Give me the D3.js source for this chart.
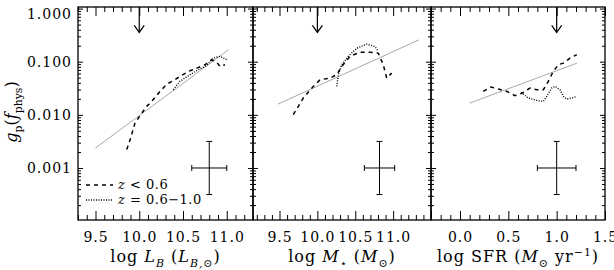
<!DOCTYPE html>
<html>
<head>
<meta charset="utf-8">
<script src="https://cdn.jsdelivr.net/npm/d3@7/dist/d3.min.js"></script>
<style>
body { margin: 0; background: #fff; }
text { font-family: "DejaVu Serif", "Liberation Serif", serif; fill: #000; }
</style>
</head>
<body>
<svg id="chart" width="614" height="270"></svg>
<script>
// values
// panel 1: log L_B
const lbDashX = [9.857, 9.902, 9.951, 10.028, 10.085, 10.142, 10.237, 10.314, 10.389, 10.466, 10.561, 10.657, 10.751, 10.828, 10.885, 10.923, 10.98]
const lbDashY = [0.00222, 0.00366, 0.00701, 0.01067, 0.01445, 0.0179, 0.0276, 0.0378, 0.0438, 0.0528, 0.0656, 0.0757, 0.0877, 0.109, 0.0982, 0.0815, 0.0877]
const lbDotX = [10.389, 10.466, 10.58, 10.675, 10.771, 10.846, 10.923, 10.999]
const lbDotY = [0.0297, 0.0428, 0.0569, 0.0706, 0.0851, 0.117, 0.126, 0.109]
const lbFitX = [9.5, 11.02]
const lbFitY = [0.00238, 0.168]

// panel 2: log M*
const msDashX = [9.682, 9.814, 9.925, 10.035, 10.167, 10.255, 10.321, 10.431, 10.563, 10.695, 10.804, 10.87, 10.915, 10.981]
const msDashY = [0.0101, 0.0207, 0.0318, 0.0458, 0.0491, 0.0569, 0.0815, 0.126, 0.151, 0.151, 0.145, 0.0877, 0.0491, 0.061]
const msDotX = [10.255, 10.279, 10.321, 10.408, 10.519, 10.651, 10.761, 10.804]
const msDotY = [0.0343, 0.0577, 0.0877, 0.126, 0.179, 0.214, 0.193, 0.156]
const msFitX = [9.48, 11.34]
const msFitY = [0.0159, 0.258]

// panel 3: log SFR
const sfDashX = [0.241, 0.321, 0.414, 0.486, 0.569, 0.641, 0.724, 0.797, 0.862, 0.913, 0.965, 1.017, 1.069, 1.138, 1.207]
const sfDashY = [0.0276, 0.0333, 0.0301, 0.0276, 0.023, 0.0254, 0.0318, 0.0297, 0.0297, 0.0426, 0.0656, 0.0877, 0.094, 0.117, 0.135]
const sfDotX = [0.631, 0.706, 0.793, 0.862, 0.897, 0.948, 0.983, 1.034, 1.069, 1.104, 1.155, 1.207]
const sfDotY = [0.0265, 0.0207, 0.0187, 0.0179, 0.0222, 0.0318, 0.0343, 0.0297, 0.0222, 0.0198, 0.0207, 0.0222]
const sfFitX = [0.1, 1.21]
const sfFitY = [0.0166, 0.094]

const xDomains = [[9.3, 11.3], [9.15, 11.5], [-0.3, 1.5]]
const xLabels = [[9.5, 10.0, 10.5, 11.0], [9.5, 10.0, 10.5, 11.0], [0.0, 0.5, 1.0, 1.5]]
const arrowX = [10.0, 10.0, 1.0]
const arrowTo = 0.355
const errX = [10.8, 10.82, 1.0]
const errY = 0.001
const errDx = 0.2
const errDex = 0.5
const yDomain = [1.05e-4, 1.07]
const yLabels = [0.001, 0.01, 0.1, 1.0]
const legendLabels = [[{t: "z", i: 1}, {t: " < 0.6"}], [{t: "z", i: 1}, {t: " = 0.6\u22121.0"}]]

const xTitles = [
  [{t: "log "}, {t: "L", i: 1}, {t: "B", i: 1, sub: 1}, {t: " ("}, {t: "L", i: 1}, {t: "B,\u2299", i: 1, sub: 1}, {t: ")"}],
  [{t: "log "}, {t: "M", i: 1}, {t: "\u22c6", sub: 1}, {t: " ("}, {t: "M", i: 1}, {t: "\u2299", sub: 1}, {t: ")"}],
  [{t: "log SFR ("}, {t: "M", i: 1}, {t: "\u2299", sub: 1}, {t: " yr"}, {t: "\u22121", sup: 1}, {t: ")"}]
]

const zip = (a, b) => a.map((v, i) => [v, b[i]])
const panels = [
  {dash: zip(lbDashX, lbDashY), dot: zip(lbDotX, lbDotY), fit: zip(lbFitX, lbFitY)},
  {dash: zip(msDashX, msDashY), dot: zip(msDotX, msDotY), fit: zip(msFitX, msFitY)},
  {dash: zip(sfDashX, sfDashY), dot: zip(sfDotX, sfDotY), fit: zip(sfFitX, sfFitY)}
]

const edges = [78, 253, 431, 605]
const yTop = 7, yBot = 220

const svg = d3.select("#chart")
const y = d3.scaleLog().domain(yDomain).range([yBot, yTop])

let yMinor = []
for (let d = 1e-4; d < 1; d *= 10) {
  for (let k = 2; k <= 9; k++) {
    const v = d * k
    if (v > yDomain[0] && v < yDomain[1]) yMinor.push(v)
  }
}

function rich(sel, parts, size) {
  let shift = 0
  parts.forEach(pt => {
    const ts = sel.append("tspan").text(pt.t)
    if (pt.i) ts.attr("font-style", "italic")
    const want = pt.sub ? size * 0.3 : pt.sup ? -size * 0.4 : 0
    ts.attr("dy", want - shift)
    shift = want
    if (pt.sub || pt.sup) ts.attr("font-size", size * 0.68)
  })
}

function styleAxis(g) {
  g.select(".domain").remove()
  g.selectAll("line").attr("stroke", "#000").attr("stroke-width", 1)
  g.attr("font-family", null).attr("font-size", null)
}

panels.forEach((p, i) => {
  const x = d3.scaleLinear().domain(xDomains[i]).range([edges[i], edges[i + 1]])
  const g = svg.append("g")
  const d0 = xDomains[i][0], d1 = xDomains[i][1]
  const xMinor = d3.range(Math.ceil(d0 * 10 - 1e-6), Math.floor(d1 * 10 + 1e-6) + 1).map(v => v / 10)
  const xMajor = xMinor.filter(v => Math.abs(v * 2 - Math.round(v * 2)) < 1e-6)
  const xMin2 = xMinor.filter(v => !xMajor.includes(v))

  // x ticks, bottom and top
  g.append("g").attr("transform", `translate(0,${yBot})`)
    .call(d3.axisBottom(x).tickValues(xMin2).tickSize(-5).tickFormat("")).call(styleAxis)
  g.append("g").attr("transform", `translate(0,${yTop})`)
    .call(d3.axisTop(x).tickValues(xMin2).tickSize(-5).tickFormat("")).call(styleAxis)
  g.append("g").attr("transform", `translate(0,${yTop})`)
    .call(d3.axisTop(x).tickValues(xMajor).tickSize(-9).tickFormat("")).call(styleAxis)
  const bx = g.append("g").attr("transform", `translate(0,${yBot})`)
    .call(d3.axisBottom(x).tickValues(xMajor).tickSize(-9).tickPadding(12)
      .tickFormat(v => xLabels[i].some(l => Math.abs(l - v) < 1e-6) ? d3.format(".1f")(v) : ""))
    .call(styleAxis)
  bx.selectAll("text").attr("font-size", 14).attr("letter-spacing", 1)

  // y ticks, left and right
  g.append("g").attr("transform", `translate(${edges[i]},0)`)
    .call(d3.axisLeft(y).tickValues(yMinor).tickSize(-3).tickFormat("")).call(styleAxis)
  g.append("g").attr("transform", `translate(${edges[i + 1]},0)`)
    .call(d3.axisRight(y).tickValues(yMinor).tickSize(-3).tickFormat("")).call(styleAxis)
  g.append("g").attr("transform", `translate(${edges[i + 1]},0)`)
    .call(d3.axisRight(y).tickValues(yLabels).tickSize(-5).tickFormat("")).call(styleAxis)
  const ly = g.append("g").attr("transform", `translate(${edges[i]},0)`)
    .call(d3.axisLeft(y).tickValues(yLabels).tickSize(-5).tickPadding(6)
      .tickFormat(i === 0 ? d3.format(".3f") : ""))
    .call(styleAxis)
  ly.selectAll("text").attr("font-size", 14).attr("letter-spacing", 1)
    .attr("y", d => d === 1.0 ? 5 : 0) // top label sits a little lower, as in the original

  // frame
  g.append("rect").attr("x", edges[i]).attr("y", yTop)
    .attr("width", edges[i + 1] - edges[i]).attr("height", yBot - yTop)
    .attr("fill", "none").attr("stroke", "#000").attr("stroke-width", 1.3)

  const line = d3.line().x(d => x(d[0])).y(d => y(d[1]))

  // grey fit
  g.append("path").attr("d", line(p.fit)).attr("fill", "none")
    .attr("stroke", "#a8a8a8").attr("stroke-width", 1)
  // dashed z<0.6
  g.append("path").attr("d", line(p.dash)).attr("fill", "none")
    .attr("stroke", "#000").attr("stroke-width", 1.5).attr("stroke-dasharray", "4,4")
  // dotted z=0.6-1.0
  g.append("path").attr("d", line(p.dot)).attr("fill", "none")
    .attr("stroke", "#000").attr("stroke-width", 1.4).attr("stroke-dasharray", "1,1.5")

  // arrow
  const ax = x(arrowX[i]), ay = y(arrowTo)
  g.append("line").attr("x1", ax).attr("x2", ax).attr("y1", yTop).attr("y2", ay)
    .attr("stroke", "#000").attr("stroke-width", 1.2)
  g.append("path").attr("d", `M${ax - 5},${ay - 7}L${ax},${ay}L${ax + 5},${ay - 7}`)
    .attr("fill", "none").attr("stroke", "#000").attr("stroke-width", 1.2)

  // error cross
  const ex0 = x(errX[i] - errDx), ex1 = x(errX[i] + errDx), ecx = x(errX[i])
  const ey0 = y(errY * Math.pow(10, errDex)), ey1 = y(errY / Math.pow(10, errDex)), ecy = y(errY)
  const cross = g.append("g").attr("stroke", "#000").attr("stroke-width", 1)
  cross.append("line").attr("x1", ex0).attr("x2", ex1).attr("y1", ecy).attr("y2", ecy)
  cross.append("line").attr("x1", ex0).attr("x2", ex0).attr("y1", ecy - 3).attr("y2", ecy + 3)
  cross.append("line").attr("x1", ex1).attr("x2", ex1).attr("y1", ecy - 3).attr("y2", ecy + 3)
  cross.append("line").attr("x1", ecx).attr("x2", ecx).attr("y1", ey0).attr("y2", ey1)
  cross.append("line").attr("x1", ecx - 3).attr("x2", ecx + 3).attr("y1", ey0).attr("y2", ey0)
  cross.append("line").attr("x1", ecx - 3).attr("x2", ecx + 3).attr("y1", ey1).attr("y2", ey1)

  // x title
  const tt = svg.append("text").attr("x", (edges[i] + edges[i + 1]) / 2).attr("y", 262)
    .attr("text-anchor", "middle").attr("font-size", 16).attr("letter-spacing", 1)
    .style("white-space", "pre")
  rich(tt, xTitles[i], 16)
})

// y title
const yt = svg.append("text").attr("transform", "translate(17,112) rotate(-90)")
  .attr("text-anchor", "middle").attr("font-size", 16).style("white-space", "pre")
rich(yt, [{t: "g", i: 1}, {t: "p", sub: 1}, {t: "("}, {t: "f", i: 1}, {t: "phys", sub: 1}, {t: ")"}], 16)

// legend
const legend = svg.append("g")
legendLabels.forEach((lab, k) => {
  const ly = 185 + k * 15
  legend.append("line").attr("x1", 86).attr("x2", 113).attr("y1", ly).attr("y2", ly)
    .attr("stroke", "#000").attr("stroke-width", 1.5)
    .attr("stroke-dasharray", k === 0 ? "4,4" : "1,1.5")
  const t = legend.append("text").attr("x", 118).attr("y", ly + 4)
    .attr("font-size", 13).attr("letter-spacing", 0.5).style("white-space", "pre")
  rich(t, lab, 13)
})
</script>
</body>
</html>
